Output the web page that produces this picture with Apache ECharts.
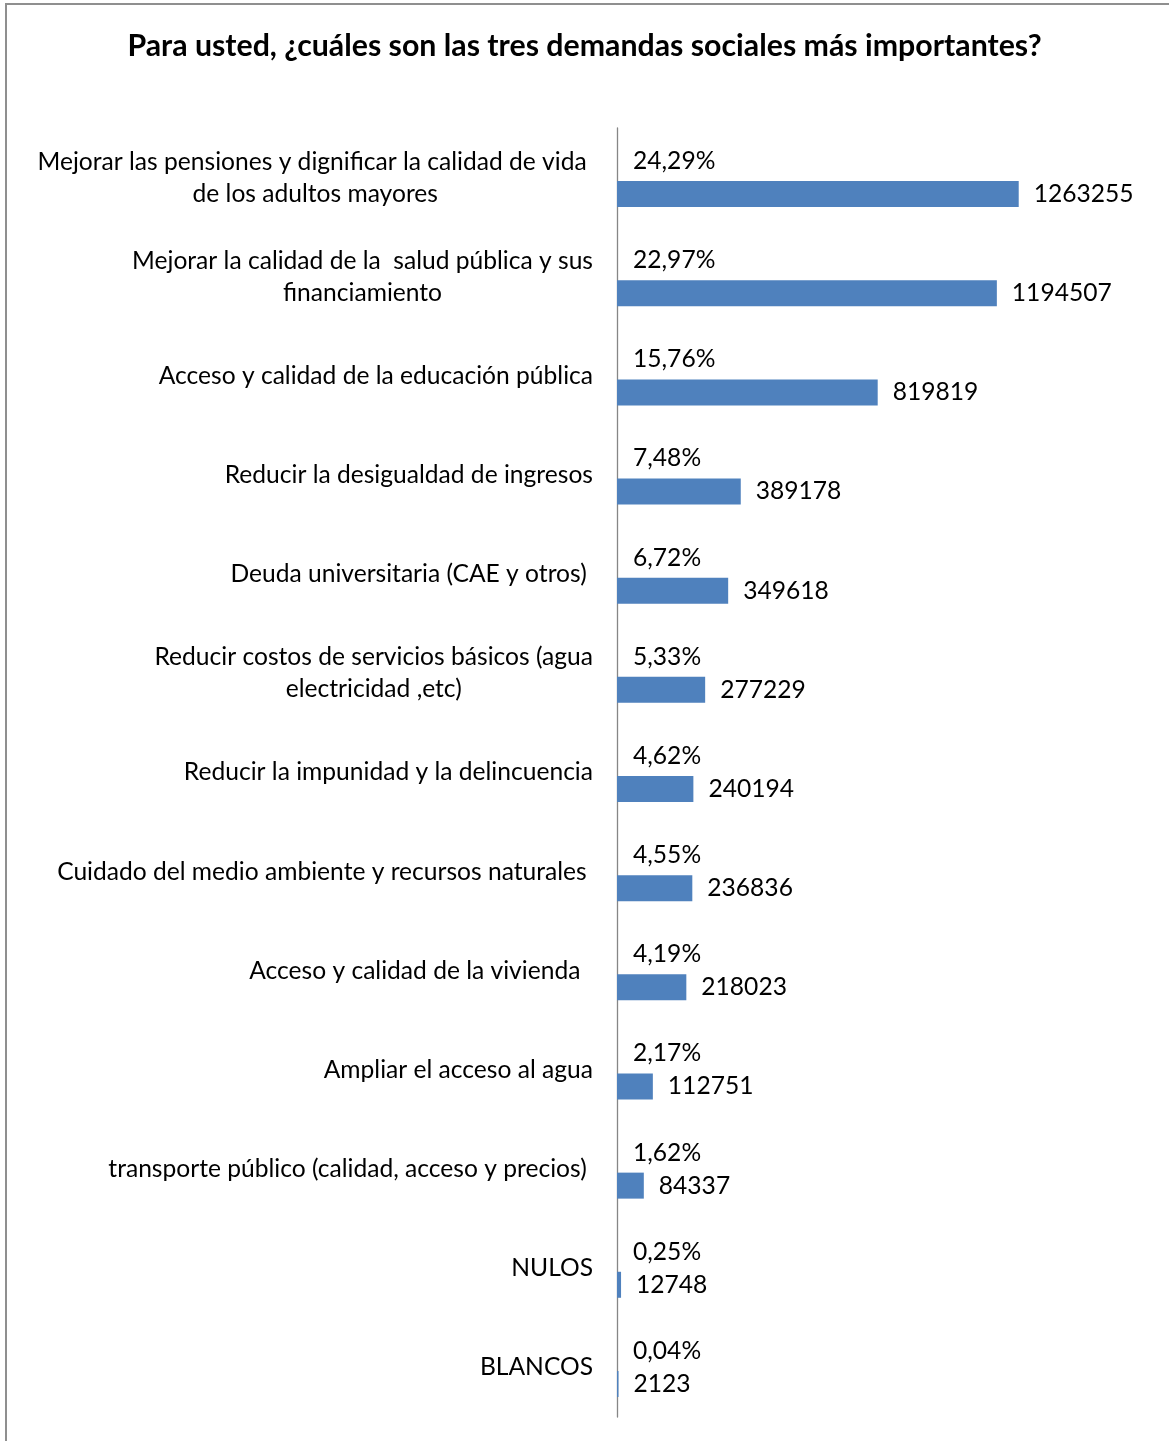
<!DOCTYPE html>
<html>
<head>
<meta charset="utf-8">
<script src="https://cdn.jsdelivr.net/npm/echarts@6/dist/echarts.min.js"></script>
<style>
  html, body { margin: 0; padding: 0; background: #fff; }
  #frame { position: absolute; left: 5px; top: 3px; width: 1164px; height: 1438px;
           border-left: 2px solid #8f8f8f; border-top: 2px solid #8f8f8f; box-sizing: border-box; }
  #chart { position: absolute; left: 0; top: 0; width: 1169px; height: 1441px; }
</style>
</head>
<body>
<div id="frame"></div>
<div id="chart"></div>
<script>
const titleText = 'Para usted, ¿cuáles son las tres demandas sociales más importantes?';
const categories = [
  'Mejorar las pensiones y dignificar la calidad de vida \nde los adultos mayores',
  'Mejorar la calidad de la  salud pública y sus\nfinanciamiento',
  'Acceso y calidad de la educación pública',
  'Reducir la desigualdad de ingresos',
  'Deuda universitaria (CAE y otros) ',
  'Reducir costos de servicios básicos (agua\nelectricidad ,etc)',
  'Reducir la impunidad y la delincuencia',
  'Cuidado del medio ambiente y recursos naturales ',
  'Acceso y calidad de la vivienda  ',
  'Ampliar el acceso al agua',
  'transporte público (calidad, acceso y precios) ',
  'NULOS',
  'BLANCOS'
];
const percentages = [24.29, 22.97, 15.76, 7.48, 6.72, 5.33, 4.62, 4.55, 4.19, 2.17, 1.62, 0.25, 0.04];
const counts = [1263255, 1194507, 819819, 389178, 349618, 277229, 240194, 236836, 218023, 112751, 84337, 12748, 2123];

const FONT = 'Lato';
const LBL = 24.6;
const chart = echarts.init(document.getElementById('chart'), null, { renderer: 'canvas' });
chart.setOption({
  animation: false,
  backgroundColor: 'transparent',
  title: {
    text: titleText,
    left: 'center',
    top: 26,
    textStyle: { fontFamily: FONT, fontSize: 30.3, fontWeight: 'bold', color: '#000' }
  },
  grid: { left: 617, right: 75, top: 128, bottom: 24, containLabel: false },
  xAxis: {
    type: 'value', min: 0, max: 1500000, show: false
  },
  yAxis: {
    type: 'category',
    data: categories,
    inverse: true,
    axisLine: { show: true, lineStyle: { color: '#868686', width: 1.3 } },
    axisTick: { show: false },
    axisLabel: {
      margin: 24,
      fontFamily: FONT, fontSize: LBL, color: '#000', lineHeight: 32,
      formatter: function (v) {
        return v.split('\n').map(function (l) { return '{c|' + l + '}'; }).join('\n');
      },
      rich: { c: { align: 'center', fontFamily: FONT, fontSize: LBL, color: '#000', lineHeight: 32 } }
    },
    splitLine: { show: false }
  },
  series: [
    {
      name: 'Porcentaje',
      type: 'bar',
      data: percentages,
      barWidth: 26,
      barGap: '27%',
      itemStyle: { color: 'rgba(0,0,0,0)' },
      label: {
        show: true, position: 'right', distance: 16,
        fontFamily: FONT, fontSize: LBL, color: '#000',
        formatter: function (p) { return p.value.toFixed(2).replace('.', ',') + '%'; }
      }
    },
    {
      name: 'Votos',
      type: 'bar',
      data: counts,
      barWidth: 26,
      barGap: '27%',
      barMinHeight: 1.5,
      itemStyle: { color: '#4F81BD' },
      label: {
        show: true, position: 'right', distance: 15,
        fontFamily: FONT, fontSize: LBL, color: '#000'
      }
    }
  ]
});
</script>
</body>
</html>
